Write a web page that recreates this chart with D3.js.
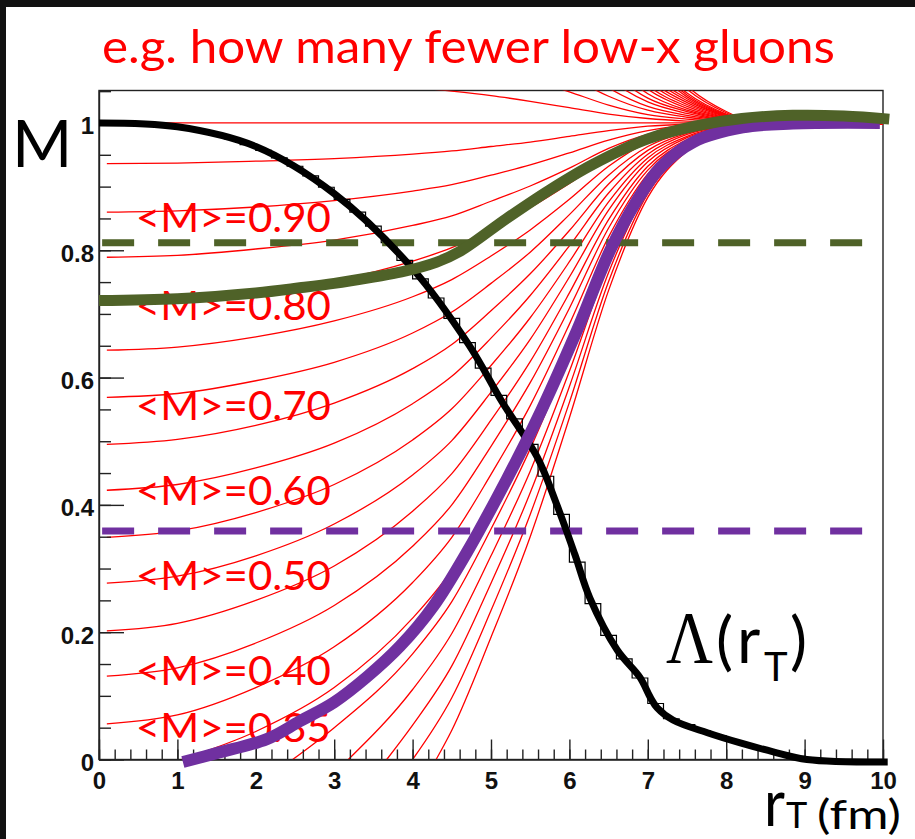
<!DOCTYPE html>
<html>
<head>
<meta charset="utf-8">
<script src="https://cdn.jsdelivr.net/npm/d3@7"></script>
<style>
  html, body { margin: 0; padding: 0; background: #fff; }
  svg { display: block; }
</style>
</head>
<body>
<svg id="chart" width="915" height="839"></svg>
<script>
// ---- data -------------------------------------------------------------
// common r_T grid (fm) for the family of M(r_T) curves
const rGrid = [0.1, 1, 2, 3, 4, 4.5, 5, 5.5, 6, 6.5, 7, 7.5, 8, 8.5, 9, 10];

// curves that begin on the M axis
const leftCurves = [
  [1, 1, 1, 1, 1, 1, 1, 1, 1, 1, 1, 1, 1, 1, 1, 1],
  [0.936, 0.937, 0.940, 0.944, 0.951, 0.956, 0.963, 0.970, 0.979, 0.988, 0.995, 0.998, 0.999, 1.0, 1.0, 1.0],
  [0.860, 0.862, 0.868, 0.878, 0.893, 0.903, 0.918, 0.934, 0.953, 0.973, 0.988, 0.996, 0.999, 1.0, 1.0, 1.0],
  [0.789, 0.792, 0.802, 0.816, 0.839, 0.854, 0.877, 0.901, 0.929, 0.960, 0.982, 0.993, 0.998, 1.0, 1.001, 1.0],
  [0.716, 0.720, 0.733, 0.752, 0.783, 0.804, 0.834, 0.867, 0.905, 0.946, 0.976, 0.991, 0.998, 1.001, 1.001, 1.0],
  [0.643, 0.648, 0.664, 0.689, 0.727, 0.754, 0.791, 0.832, 0.880, 0.932, 0.970, 0.989, 0.997, 1.001, 1.001, 1.0],
  [0.569, 0.575, 0.595, 0.624, 0.670, 0.703, 0.748, 0.797, 0.856, 0.918, 0.963, 0.986, 0.997, 1.001, 1.001, 1.0],
  [0.495, 0.503, 0.525, 0.560, 0.614, 0.652, 0.705, 0.763, 0.831, 0.904, 0.957, 0.984, 0.996, 1.001, 1.002, 1.0],
  [0.423, 0.432, 0.458, 0.497, 0.559, 0.602, 0.662, 0.729, 0.807, 0.890, 0.951, 0.982, 0.995, 1.001, 1.002, 1.001],
  [0.349, 0.359, 0.388, 0.432, 0.502, 0.551, 0.619, 0.694, 0.782, 0.876, 0.945, 0.979, 0.995, 1.001, 1.002, 1.001],
  [0.277, 0.288, 0.320, 0.370, 0.447, 0.501, 0.577, 0.660, 0.758, 0.863, 0.939, 0.977, 0.994, 1.001, 1.002, 1.001],
  [0.202, 0.214, 0.250, 0.304, 0.390, 0.449, 0.533, 0.625, 0.733, 0.848, 0.932, 0.974, 0.994, 1.002, 1.002, 1.001],
  [0.131, 0.144, 0.183, 0.242, 0.335, 0.400, 0.492, 0.592, 0.709, 0.835, 0.926, 0.972, 0.993, 1.002, 1.003, 1.001],
  [0.056, 0.070, 0.113, 0.177, 0.278, 0.349, 0.448, 0.556, 0.684, 0.821, 0.920, 0.970, 0.992, 1.002, 1.003, 1.001]
];

// curves that rise from M = 0 at a given r_T
const axisStartR = [1.05, 2.47, 3.18, 3.67, 4.0, 4.3];
const axisCurves = [
  [null, null, 0.044, 0.113, 0.222, 0.298, 0.405, 0.522, 0.659, 0.807, 0.914, 0.967, 0.992, 1.002, 1.003, 1.001],
  [null, null, null, 0.050, 0.166, 0.248, 0.362, 0.488, 0.635, 0.793, 0.907, 0.965, 0.991, 1.002, 1.003, 1.001],
  [null, null, null, null, 0.110, 0.198, 0.320, 0.453, 0.610, 0.779, 0.901, 0.963, 0.991, 1.002, 1.003, 1.001],
  [null, null, null, null, 0.054, 0.147, 0.277, 0.419, 0.586, 0.765, 0.895, 0.960, 0.990, 1.002, 1.004, 1.001],
  [null, null, null, null, null, 0.097, 0.234, 0.385, 0.561, 0.751, 0.889, 0.958, 0.990, 1.003, 1.004, 1.001],
  [null, null, null, null, null, 0.046, 0.192, 0.350, 0.537, 0.737, 0.883, 0.956, 0.989, 1.003, 1.004, 1.001]
];

// curves coming down from above M = 1
const overCurves = [
  [1.073, 1.073, 1.072, 1.064, 1.056, 1.050, 1.043, 1.034, 1.024, 1.014, 1.007, 1.003, 1.001, 1.0, 1.0, 1.0],
  [null, null, null, null, 1.112, 1.101, 1.085, 1.069, 1.049, 1.028, 1.013, 1.006, 1.002, 1.0, 1.0, 1.0],
  [null, null, null, null, null, null, 1.128, 1.103, 1.073, 1.042, 1.020, 1.009, 1.003, 1.0, 0.999, 1.0],
  [null, null, null, null, null, null, 1.171, 1.137, 1.098, 1.055, 1.026, 1.012, 1.004, 0.999, 0.999, 1.0],
  [null, null, null, null, null, null, null, 1.172, 1.122, 1.069, 1.033, 1.015, 1.004, 0.999, 0.999, 1.0],
  [null, null, null, null, null, null, null, null, 1.147, 1.083, 1.039, 1.018, 1.005, 0.999, 0.999, 1.0],
  [null, null, null, null, null, null, null, null, 1.171, 1.097, 1.046, 1.020, 1.006, 0.999, 0.998, 0.999],
  [null, null, null, null, null, null, null, null, 1.196, 1.111, 1.053, 1.023, 1.007, 0.999, 0.998, 0.999],
  [null, null, null, null, null, null, null, null, null, 1.125, 1.059, 1.026, 1.008, 0.999, 0.998, 0.999],
  [null, null, null, null, null, null, null, null, null, 1.139, 1.066, 1.029, 1.009, 0.999, 0.998, 0.999],
  [null, null, null, null, null, null, null, null, null, 1.153, 1.072, 1.032, 1.010, 0.998, 0.998, 0.999],
  [null, null, null, null, null, null, null, null, null, 1.166, 1.079, 1.035, 1.011, 0.998, 0.997, 0.999],
  [null, null, null, null, null, null, null, null, null, 1.180, 1.085, 1.038, 1.011, 0.998, 0.997, 0.999],
  [null, null, null, null, null, null, null, null, null, null, 1.092, 1.041, 1.012, 0.998, 0.997, 0.999],
  [null, null, null, null, null, null, null, null, null, null, 1.099, 1.044, 1.013, 0.998, 0.997, 0.999],
  [null, null, null, null, null, null, null, null, null, null, 1.105, 1.047, 1.014, 0.998, 0.996, 0.999],
  [null, null, null, null, null, null, null, null, null, null, 1.118, 1.053, 1.016, 0.997, 0.996, 0.999],
  [null, null, null, null, null, null, null, null, null, null, 1.131, 1.058, 1.018, 0.997, 0.996, 0.999]
];

// Lambda(r_T) profile: smooth curve and 0.2 fm histogram
const lambdaR = [0, 1.0, 2.0, 3.0, 4.0, 4.72, 5.15, 5.59, 5.84, 6.07, 6.26, 6.61, 6.9, 7.03, 7.12, 7.32, 7.76, 8.18, 8.6, 9.03, 10.06];
const lambdaM = [1.0, 0.994, 0.963, 0.889, 0.771, 0.651, 0.560, 0.475, 0.400, 0.322, 0.254, 0.172, 0.129, 0.098, 0.081, 0.062, 0.042, 0.026, 0.012, 0.0, -0.004];
const lambdaBins = [1.0, 1.0, 0.998, 0.997, 0.994, 0.991, 0.987, 0.981, 0.975, 0.966,
                    0.957, 0.945, 0.932, 0.917, 0.899, 0.88, 0.86, 0.838, 0.812, 0.784,
                    0.755, 0.725, 0.693, 0.655, 0.615, 0.572, 0.535, 0.495, 0.445, 0.385,
                    0.31, 0.245, 0.195, 0.158, 0.128, 0.088, 0.064, 0.055, 0.045, 0.037,
                    0.029, 0.022, 0.015, 0.01, 0.005, 0.002, 0.001, 0, 0, 0];
const binWidth = 0.2;

// thick highlighted curves
const greenR = [0, 1, 2, 2.56, 3, 3.5, 3.86, 4.3, 4.6, 5.2, 5.75, 6.3, 7.0, 7.6, 8.2, 8.85, 9.5, 10.08];
const greenM = [0.721, 0.724, 0.733, 0.741, 0.748, 0.758, 0.766, 0.781, 0.798, 0.85, 0.895, 0.935, 0.975, 0.995, 1.007, 1.012, 1.011, 1.006];
const purpleR = [1.07, 1.5, 2.14, 2.56, 3.0, 3.42, 3.84, 4.26, 4.69, 5.2, 5.59, 6.1, 6.52, 6.86, 7.16, 7.58, 8.21, 8.85, 9.96];
const purpleM = [-0.004, 0.01, 0.032, 0.06, 0.09, 0.13, 0.178, 0.24, 0.325, 0.44, 0.535, 0.675, 0.8, 0.878, 0.93, 0.97, 0.993, 0.999, 1.0];

// horizontal reference levels
const greenLevel = 0.812;
const purpleLevel = 0.359;

// curve labels and where their baselines sit (in M)
const labelTexts = ["<M>=0.90", "<M>=0.80", "<M>=0.70", "<M>=0.60", "<M>=0.50", "<M>=0.40", "<M>=0.35"];
const labelBaseM = [0.828, 0.690, 0.533, 0.400, 0.266, 0.117, 0.0275];

// axis ticks
const xMajor = [0, 1, 2, 3, 4, 5, 6, 7, 8, 9, 10];
const yMajor = [0, 0.2, 0.4, 0.6, 0.8, 1];
const yLabels = ["0", "0.2", "0.4", "0.6", "0.8", "1"];

// ---- drawing ----------------------------------------------------------
const svg = d3.select("#chart");
const x = d3.scaleLinear().domain([0, 10]).range([99, 883]);
const y = d3.scaleLinear().domain([0, 1.051]).range([759.5, 90.5]);

// dark edge of the slide
svg.append("rect").attr("x", 0).attr("y", 0).attr("width", 915).attr("height", 839).attr("fill", "#fff");
svg.append("rect").attr("x", 0).attr("y", 0).attr("width", 915).attr("height", 7).attr("fill", "#111");
svg.append("rect").attr("x", 0).attr("y", 0).attr("width", 6).attr("height", 839).attr("fill", "#111");

// title
svg.append("text")
  .attr("x", 102).attr("y", 63)
  .attr("textLength", 733).attr("lengthAdjust", "spacingAndGlyphs")
  .attr("font-family", "Lato, 'Open Sans', sans-serif")
  .attr("font-size", 47)
  .attr("fill", "#ff0000")
  .text("e.g. how many fewer low-x gluons");

// frame
svg.append("rect")
  .attr("x", x(0)).attr("y", y(1.051))
  .attr("width", x(10) - x(0)).attr("height", y(0) - y(1.051))
  .attr("fill", "#fff").attr("stroke", "#222").attr("stroke-width", 1.4);

svg.append("defs").append("clipPath").attr("id", "plotClip")
  .append("rect")
  .attr("x", x(0)).attr("y", y(1.051))
  .attr("width", x(10) - x(0)).attr("height", y(0) - y(1.051));

const line = d3.line().x(d => x(d[0])).y(d => y(d[1])).curve(d3.curveMonotoneX);
const smooth = d3.line().x(d => x(d[0])).y(d => y(d[1])).curve(d3.curveCatmullRom.alpha(0.5));

const redPaths = [];
leftCurves.forEach(row => redPaths.push(rGrid.map((r, i) => [r, row[i]])));
axisCurves.forEach((row, k) => {
  const pts = [[axisStartR[k], 0]];
  rGrid.forEach((r, i) => { if (row[i] !== null && r > axisStartR[k]) pts.push([r, row[i]]); });
  redPaths.push(pts);
});
overCurves.forEach(row => {
  const pts = [];
  rGrid.forEach((r, i) => { if (row[i] !== null) pts.push([r, row[i]]); });
  redPaths.push(pts);
});

const redG = svg.append("g").attr("clip-path", "url(#plotClip)");
redG.selectAll("path.red").data(redPaths).join("path")
  .attr("class", "red")
  .attr("d", line)
  .attr("fill", "none")
  .attr("stroke", "#ff0000")
  .attr("stroke-width", 1.3);

// axes
const gx = svg.append("g").attr("transform", `translate(0,${y(0)})`);
gx.call(d3.axisBottom(x).tickValues(d3.range(0, 10.001, 0.2)).tickSize(-10).tickSizeOuter(0).tickFormat(""));
gx.selectAll(".tick line").attr("stroke", "#222").attr("stroke-width", 1.4);
gx.select(".domain").remove();
const gxMaj = svg.append("g").attr("transform", `translate(0,${y(0)})`);
gxMaj.call(d3.axisBottom(x).tickValues(xMajor).tickSize(-20).tickSizeOuter(0).tickPadding(12).tickFormat(d3.format("d")));
gxMaj.selectAll(".tick line").attr("stroke", "#222").attr("stroke-width", 1.4);
gxMaj.selectAll(".tick text")
  .attr("font-family", "'Liberation Sans', Arial, sans-serif")
  .attr("font-weight", "bold").attr("font-size", 24).attr("fill", "#111");
gxMaj.select(".domain").attr("stroke", "#222").attr("stroke-width", 1.4);

const gy = svg.append("g").attr("transform", `translate(${x(0)},0)`);
gy.call(d3.axisLeft(y).tickValues(d3.range(0, 1.051, 0.05)).tickSize(-12).tickSizeOuter(0).tickFormat(""));
gy.selectAll(".tick line").attr("stroke", "#222").attr("stroke-width", 1.4);
gy.select(".domain").remove();
const gyMaj = svg.append("g").attr("transform", `translate(${x(0)},0)`);
gyMaj.call(d3.axisLeft(y).tickValues(yMajor).tickSize(-25).tickSizeOuter(0).tickPadding(5)
  .tickFormat((d, i) => yLabels[i]));
gyMaj.selectAll(".tick line").attr("stroke", "#222").attr("stroke-width", 1.4);
gyMaj.selectAll(".tick text")
  .attr("font-family", "'Liberation Sans', Arial, sans-serif")
  .attr("font-weight", "bold").attr("font-size", 24).attr("fill", "#111")
  .attr("dy", "0.45em");
gyMaj.select(".domain").attr("stroke", "#222").attr("stroke-width", 1.4);

// curve labels
svg.append("g").selectAll("text").data(labelTexts).join("text")
  .attr("x", x(0.47))
  .attr("y", (d, i) => y(labelBaseM[i]))
  .attr("textLength", 195).attr("lengthAdjust", "spacingAndGlyphs")
  .attr("font-family", "Lato, 'Open Sans', sans-serif")
  .attr("font-size", 40)
  .attr("fill", "#ff0000")
  .text(d => d);

// Lambda histogram (thin steps) under the smooth curve
const histPts = lambdaBins.map((v, i) => [i * binWidth, v]);
histPts.push([10, lambdaBins[lambdaBins.length - 1]]);
svg.append("path")
  .attr("d", d3.line().x(d => x(d[0])).y(d => y(d[1])).curve(d3.curveStepAfter)(histPts))
  .attr("fill", "none").attr("stroke", "#000").attr("stroke-width", 1.2);

// dashed reference levels
const dashLine = (level, color) => svg.append("line")
  .attr("x1", x(0.04)).attr("x2", x(10))
  .attr("y1", y(level)).attr("y2", y(level))
  .attr("stroke", color).attr("stroke-width", 7)
  .attr("stroke-dasharray", "32,24");
dashLine(greenLevel, "#4f6228");
dashLine(purpleLevel, "#7030a0");

// thick curves
svg.append("path")
  .attr("d", smooth(lambdaR.map((r, i) => [r, lambdaM[i]])))
  .attr("fill", "none").attr("stroke", "#000").attr("stroke-width", 7);
svg.append("path")
  .attr("d", smooth(purpleR.map((r, i) => [r, purpleM[i]])))
  .attr("fill", "none").attr("stroke", "#7030a0").attr("stroke-width", 12);
svg.append("path")
  .attr("d", smooth(greenR.map((r, i) => [r, greenM[i]])))
  .attr("fill", "none").attr("stroke", "#4f6228").attr("stroke-width", 11);

// axis titles
svg.append("text")
  .attr("x", 12).attr("y", 167)
  .attr("font-family", "Lato, 'Open Sans', sans-serif")
  .attr("font-size", 65).attr("fill", "#000")
  .text("M");

const xt = svg.append("text")
  .attr("font-family", "Lato, 'Open Sans', sans-serif")
  .attr("fill", "#000");
xt.append("tspan").attr("x", 764).attr("y", 826).attr("font-size", 66)
  .attr("textLength", 21).attr("lengthAdjust", "spacingAndGlyphs").text("r");
xt.append("tspan").attr("x", 786).attr("y", 828).attr("font-size", 36).text("T");
xt.append("tspan").attr("x", 817).attr("y", 829).attr("font-size", 40)
  .attr("textLength", 84).attr("lengthAdjust", "spacingAndGlyphs").text("(fm)");

// Lambda(r_T) annotation
const lam = svg.append("text").attr("fill", "#000");
lam.append("tspan").attr("x", 666).attr("y", 663)
  .attr("font-family", "'Liberation Serif', 'DejaVu Serif', serif").attr("font-size", 74)
  .attr("textLength", 47).attr("lengthAdjust", "spacingAndGlyphs").text("Λ");
lam.append("tspan").attr("x", 716).attr("y", 663)
  .attr("font-family", "Lato, 'Open Sans', sans-serif").attr("font-size", 64).text("(");
lam.append("tspan").attr("x", 737).attr("y", 663)
  .attr("font-family", "Lato, 'Open Sans', sans-serif").attr("font-size", 64).text("r");
lam.append("tspan").attr("x", 764).attr("y", 681)
  .attr("font-family", "Lato, 'Open Sans', sans-serif").attr("font-size", 40).text("T");
lam.append("tspan").attr("x", 790).attr("y", 663)
  .attr("font-family", "Lato, 'Open Sans', sans-serif").attr("font-size", 64).text(")");
</script>
</body>
</html>
